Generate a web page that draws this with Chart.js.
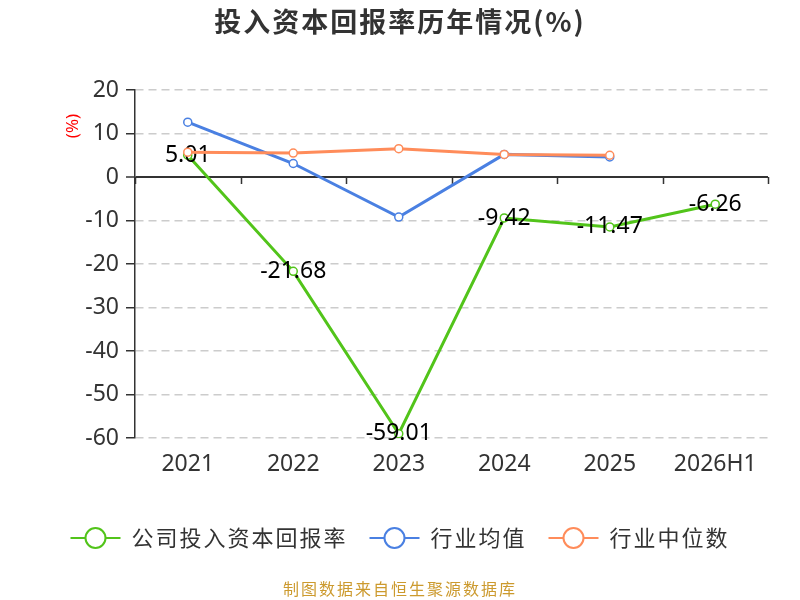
<!DOCTYPE html>
<html lang="zh-CN">
<head>
<meta charset="UTF-8">
<title>投入资本回报率历年情况(%)</title>
<style>
  html, body { margin: 0; padding: 0; background: #fff; }
  #wrap { width: 800px; height: 600px; }
</style>
</head>
<body>
<div id="wrap"><canvas id="roicChart" width="800" height="600"></canvas></div>

<script src="https://cdn.jsdelivr.net/npm/chart.js"></script>
<script>
  // values
  const years = ["2021", "2022", "2023", "2024", "2025", "2026H1"];
  const companyRoic = [5.01, -21.68, -59.01, -9.42, -11.47, -6.26];
  const industryMean = [12.6, 3.1, -9.2, 5.2, 4.6, null];
  const industryMedian = [5.7, 5.5, 6.5, 5.2, 5.0, null];
  const seriesNames = ["公司投入资本回报率", "行业均值", "行业中位数"];
  const seriesColors = ["#52c41a", "#4a80e2", "#ff8c5a"];

  const titleText = "投入资本回报率历年情况(%)";
  const unitText = "(%)";
  const sourceText = "制图数据来自恒生聚源数据库";

  const fontFamily = '"Noto Sans", "Noto Sans CJK SC", sans-serif';
  const cjkFamily = '"Noto Sans CJK SC", "Noto Sans", sans-serif';

  Chart.defaults.font.family = fontFamily;
  Chart.defaults.color = "#333";

  function spacing(ctx, px) {
    if ("letterSpacing" in ctx) ctx.letterSpacing = px + "px";
  }

  // title, unit label, zero-axis ticks, value labels, legend, source line
  const decorations = {
    id: "decorations",
    beforeDatasetsDraw(chart) {
      const ctx = chart.ctx;
      const x = chart.scales.x;
      const y0 = chart.scales.y.getPixelForValue(0);
      const step = (x.right - x.left) / years.length;
      ctx.save();
      ctx.strokeStyle = "#333";
      ctx.lineWidth = 1.5;
      ctx.beginPath();
      for (let i = 0; i <= years.length; i++) {
        const px = Math.round(x.left + i * step) + 0.5;
        ctx.moveTo(px, y0);
        ctx.lineTo(px, y0 + 7);
      }
      ctx.stroke();
      ctx.restore();
    },
    afterDatasetDraw(chart, args) {
      if (args.index !== 0) return;
      const ctx = chart.ctx;
      ctx.save();
      ctx.font = "23px " + fontFamily;
      ctx.fillStyle = "#000";
      ctx.textAlign = "center";
      ctx.textBaseline = "middle";
      args.meta.data.forEach((pt, i) => {
        ctx.fillText(companyRoic[i].toFixed(2), pt.x, pt.y);
      });
      ctx.restore();
    },
    afterDraw(chart) {
      const ctx = chart.ctx;
      const w = chart.width;
      ctx.save();

      // title
      ctx.font = "bold 27px " + cjkFamily;
      spacing(ctx, 2);
      ctx.fillStyle = "#333";
      ctx.textAlign = "center";
      ctx.textBaseline = "middle";
      ctx.fillText(titleText, w / 2, 22);

      // unit label next to the y axis
      spacing(ctx, 0);
      ctx.save();
      ctx.translate(73, 126);
      ctx.rotate(-Math.PI / 2);
      ctx.font = "17px " + fontFamily;
      ctx.fillStyle = "#f00";
      ctx.fillText(unitText, 0, 0);
      ctx.restore();

      // legend
      ctx.font = "22px " + cjkFamily;
      spacing(ctx, 2);
      const iconW = 50, iconGap = 11, itemGap = 22;
      const widths = seriesNames.map(n => ctx.measureText(n).width);
      let total = 0;
      widths.forEach((tw, i) => { total += iconW + iconGap + tw + (i ? itemGap : 0); });
      let lx = w / 2 - total / 2;
      const ly = 538;
      ctx.textAlign = "left";
      seriesNames.forEach((name, i) => {
        const c = seriesColors[i];
        ctx.strokeStyle = c;
        ctx.lineWidth = 2;
        ctx.beginPath();
        ctx.moveTo(lx, ly);
        ctx.lineTo(lx + iconW, ly);
        ctx.stroke();
        ctx.beginPath();
        ctx.arc(lx + iconW / 2, ly, 10, 0, Math.PI * 2);
        ctx.fillStyle = "#fff";
        ctx.fill();
        ctx.stroke();
        ctx.fillStyle = "#333";
        ctx.fillText(name, lx + iconW + iconGap, ly);
        lx += iconW + iconGap + widths[i] + itemGap;
      });

      // source
      ctx.font = "16px " + cjkFamily;
      spacing(ctx, 2);
      ctx.textAlign = "center";
      ctx.fillStyle = "#cc9a2e";
      ctx.fillText(sourceText, w / 2, 589);
      ctx.restore();
    }
  };

  function lineSet(label, data, color, order) {
    return {
      label: label,
      data: data,
      borderColor: color,
      backgroundColor: color,
      borderWidth: 3,
      pointRadius: 4,
      pointHoverRadius: 4,
      pointBorderWidth: 1.5,
      pointBackgroundColor: "#fff",
      pointBorderColor: color,
      tension: 0,
      order: order
    };
  }

  const ctx = document.getElementById("roicChart");
  new Chart(ctx, {
    type: "line",
    data: {
      labels: years,
      datasets: [
        lineSet(seriesNames[0], companyRoic, seriesColors[0], 3),
        lineSet(seriesNames[1], industryMean, seriesColors[1], 2),
        lineSet(seriesNames[2], industryMedian, seriesColors[2], 1)
      ]
    },
    options: {
      responsive: false,
      animation: false,
      layout: { padding: { top: 90, right: 32, bottom: 112, left: 0 } },
      plugins: {
        legend: { display: false },
        title: { display: false },
        tooltip: { enabled: false }
      },
      scales: {
        x: {
          offset: true,
          grid: { display: false, drawTicks: false },
          border: { display: false },
          ticks: { font: { size: 23 }, color: "#333", padding: 13 },
          afterFit(scale) { scale.height = 50; }
        },
        y: {
          min: -60,
          max: 20,
          ticks: { stepSize: 10, font: { size: 23 }, color: "#333", padding: 7 },
          grid: {
            color: c => (c.tick && c.tick.value === 0) ? "#333" : "#ccc",
            lineWidth: c => (c.tick && c.tick.value === 0) ? 2 : 1.5,
            tickColor: "#333",
            tickLength: 9,
            tickWidth: 1.5
          },
          border: {
            display: true,
            color: "#333",
            width: 1.5,
            dash: c => (c.tick && c.tick.value !== 0) ? [8, 5] : []
          },
          afterFit(scale) { scale.width = 135; }
        }
      }
    },
    plugins: [decorations]
  });
</script>
</body>
</html>
